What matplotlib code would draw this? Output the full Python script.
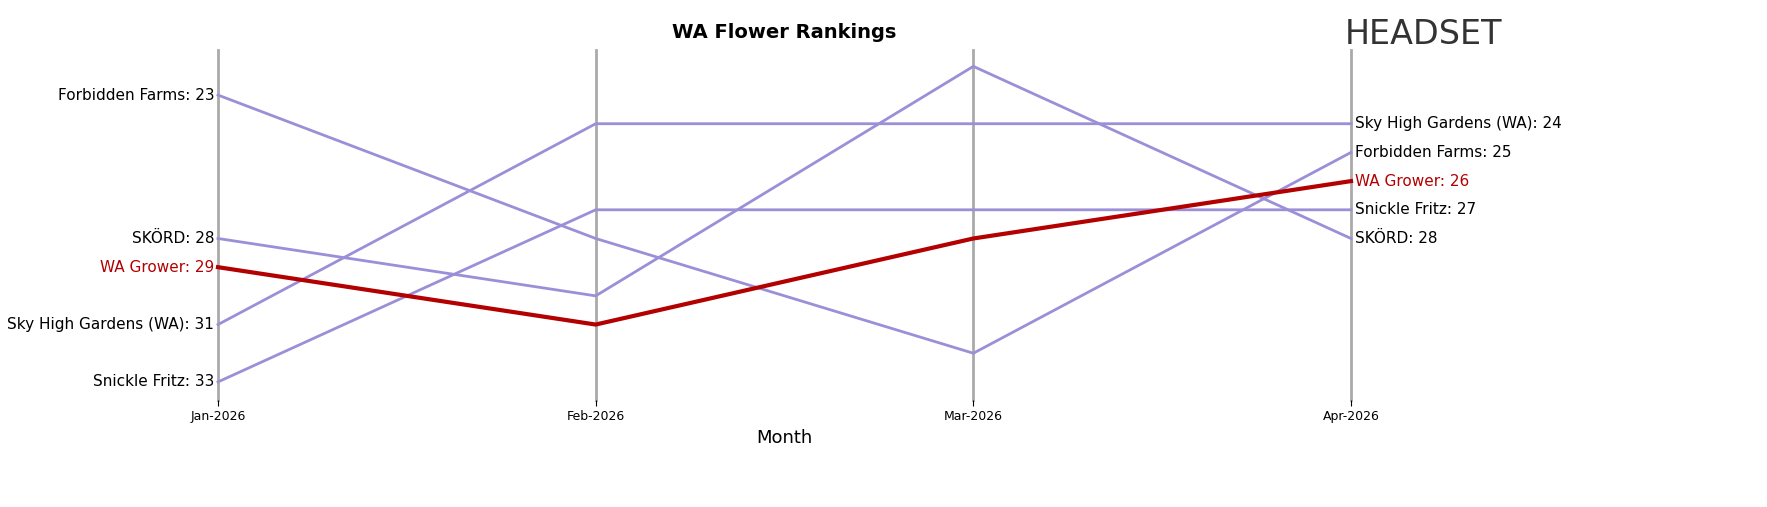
import matplotlib
matplotlib.use("Agg")
import matplotlib.pyplot as plt

months = ["Jan-2026", "Feb-2026", "Mar-2026", "Apr-2026"]
brands = ["Forbidden Farms", "Sky High Gardens (WA)", "SKÖRD", "Snickle Fritz", "WA Grower"]
forbidden = [23, 28, 32, 25]
skyhigh = [31, 24, 24, 24]
skord = [28, 30, 22, 28]
snickle = [33, 27, 27, 27]
wagrower = [29, 31, 28, 26]
series = [forbidden, skyhigh, skord, snickle, wagrower]

fig = plt.figure(figsize=(17.67, 5.07), dpi=100)
ax = fig.add_axes([218/1767, 1-400/507, (1351-218)/1767, 350/507])
x = list(range(len(months)))
for xi in x:
    ax.axvline(xi, color="#aaaaaa", lw=2, zorder=0, clip_on=False)
for name, vals in zip(brands, series):
    hl = name == "WA Grower"
    c = "#b30000" if hl else "#9b8fd8"
    ax.plot(x, vals, color=c, lw=3 if hl else 2, zorder=3 if hl else 2, clip_on=False)
    tc = "#b30000" if hl else "black"
    ax.text(-0.01, vals[0], f"{name}: {vals[0]}", ha="right", va="center", fontsize=11, color=tc)
    ax.text(3.01, vals[-1], f"{name}: {vals[-1]}", ha="left", va="center", fontsize=11, color=tc)
ax.set_xlim(0, 3)
ax.set_ylim(33.63, 21.43)
ax.set_xticks(x)
ax.set_xticklabels(months, fontsize=9)
ax.set_yticks([])
for s in ax.spines.values():
    s.set_visible(False)
ax.tick_params(axis="x", length=4)
ax.set_xlabel("Month", fontsize=13)
fig.text(784/1767, 1-33/507, "WA Flower Rankings", ha="center", va="center", fontsize=14, fontweight="bold")
fig.text(1345/1767, 1-34/507, "HEADSET", ha="left", va="center", fontsize=24, color="#333333", family="DejaVu Sans")
fig.savefig("out.png", dpi=100)
